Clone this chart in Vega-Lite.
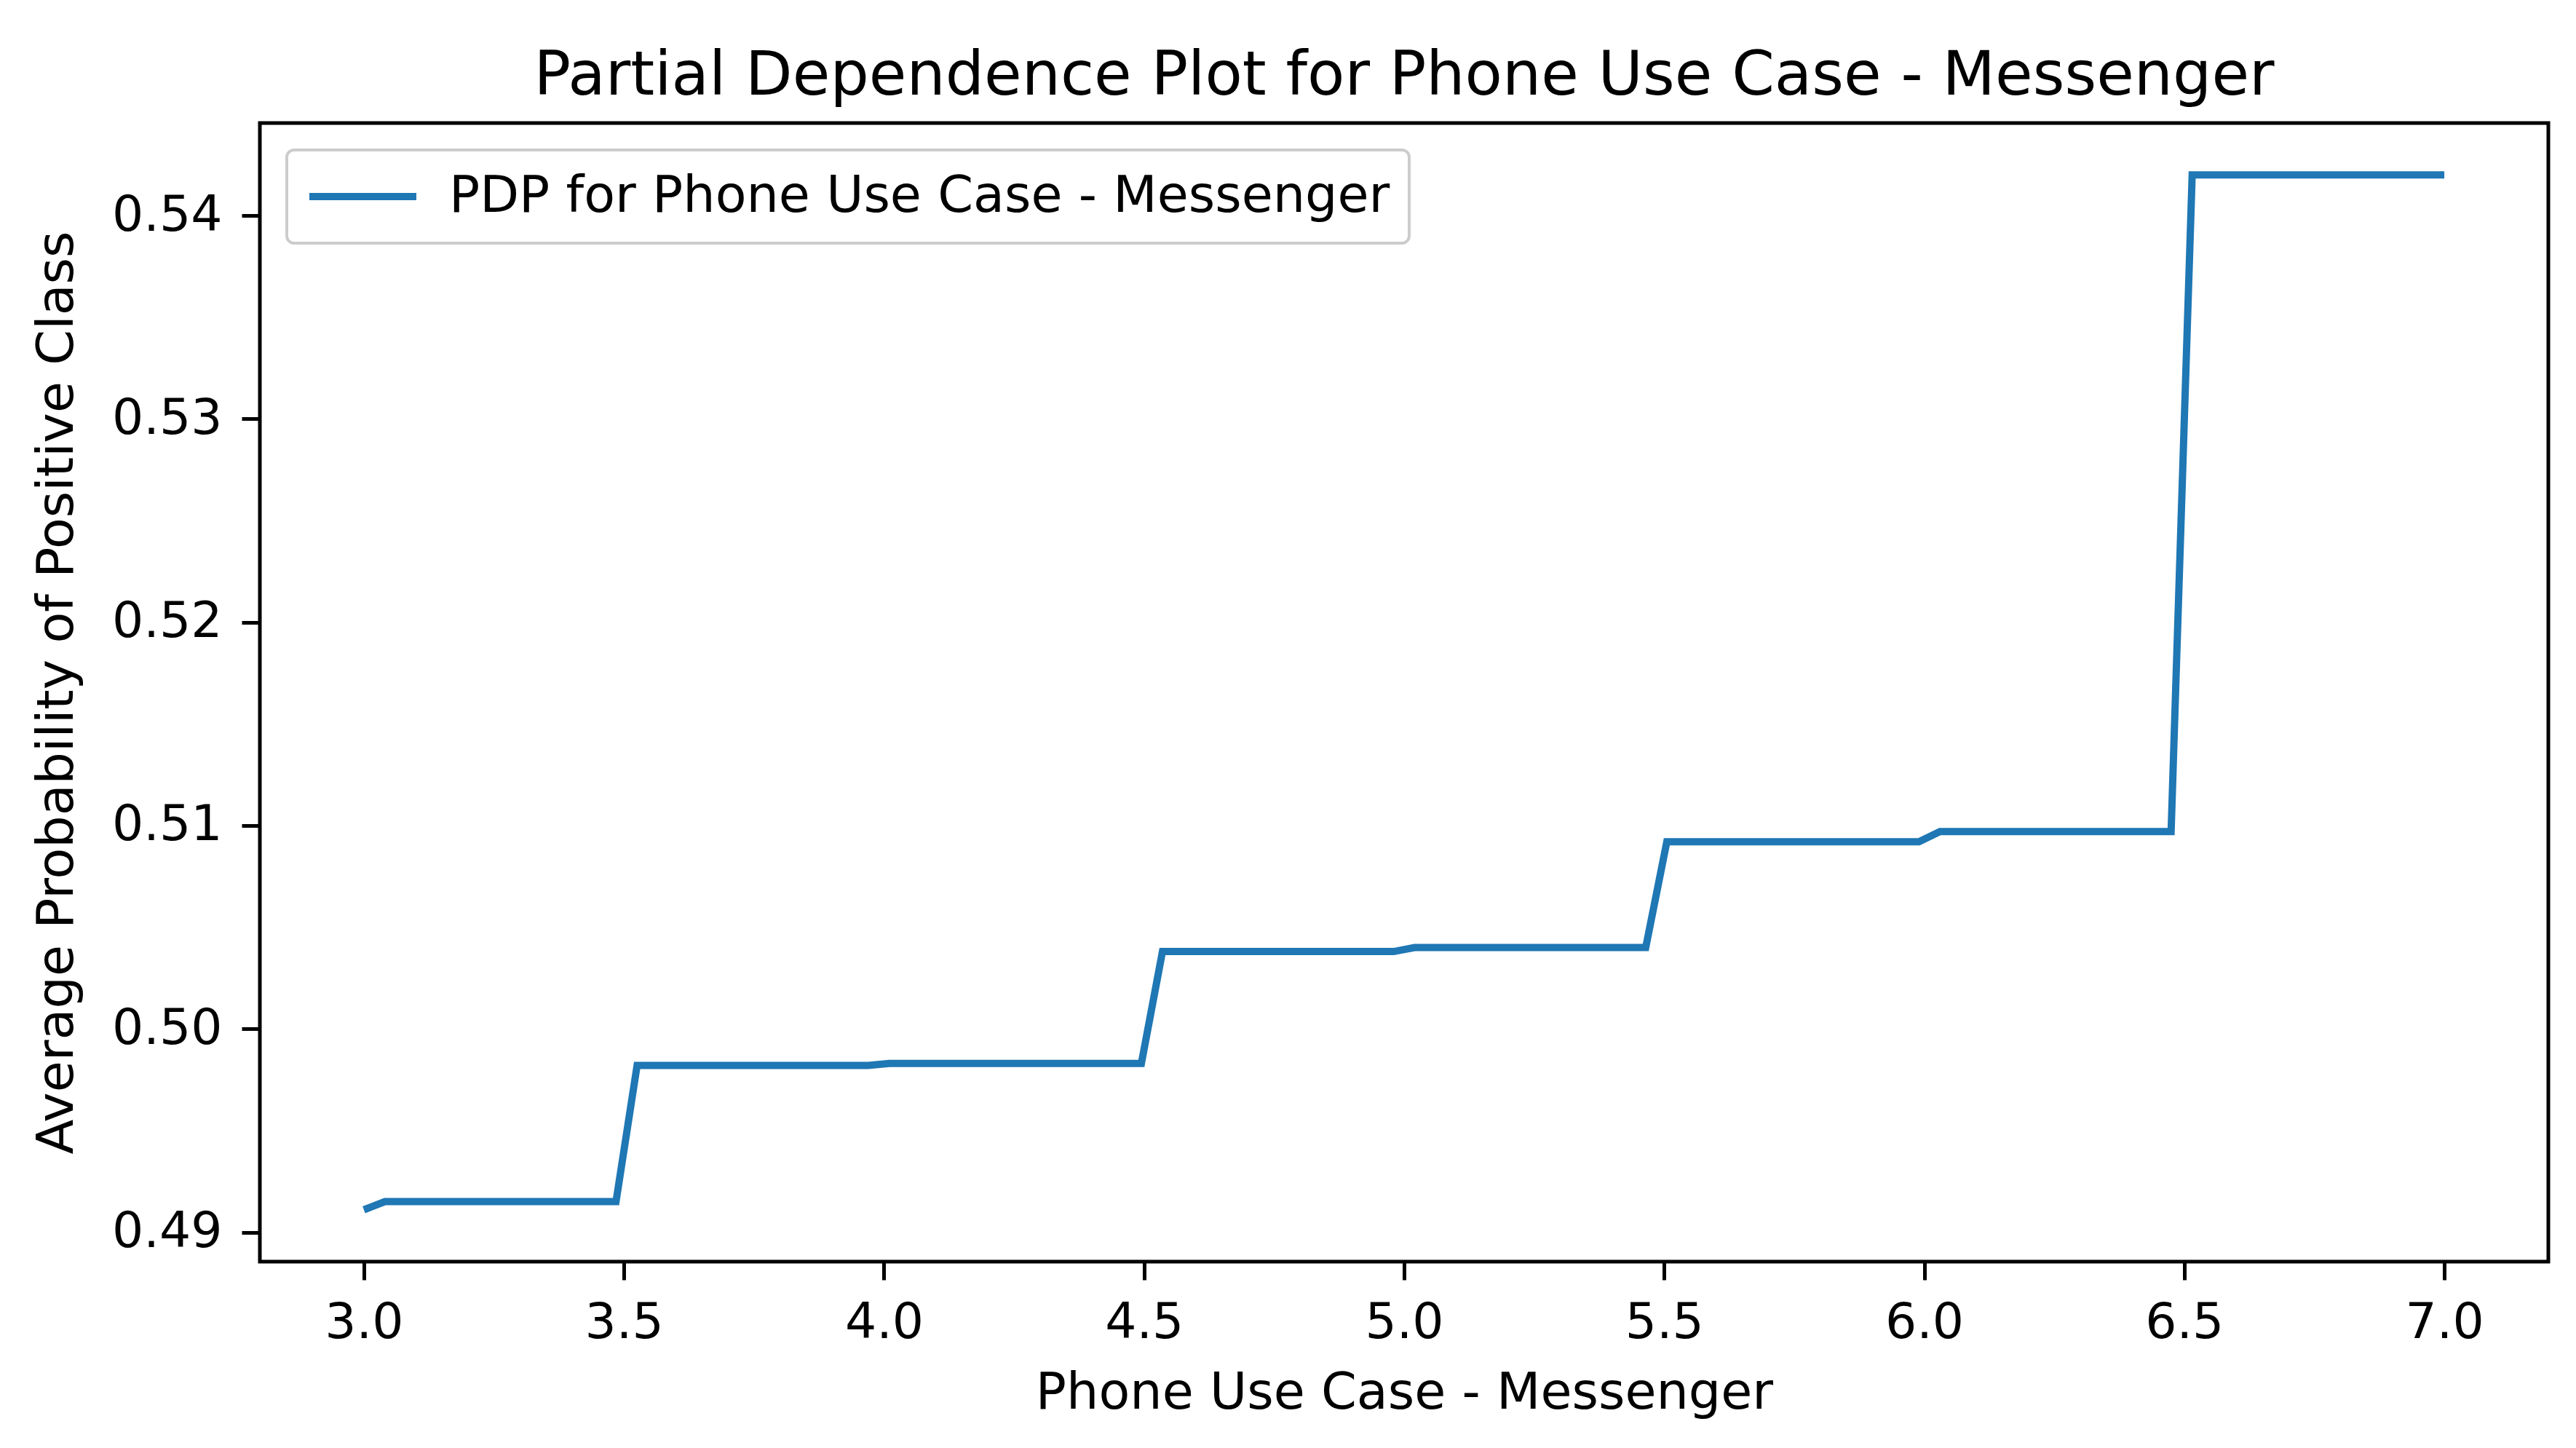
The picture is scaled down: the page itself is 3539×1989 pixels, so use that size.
{
  "$schema": "https://vega.github.io/schema/vega-lite/v6.json",
  "autosize": {"type": "none"},
  "width": 3144,
  "height": 1564,
  "padding": {"left": 357, "top": 169, "right": 38, "bottom": 256},
  "background": "white",
  "title": {
    "text": "Partial Dependence Plot for Phone Use Case - Messenger",
    "font": "DejaVu Sans",
    "fontSize": 84,
    "fontWeight": "normal",
    "color": "black",
    "anchor": "middle",
    "frame": "group",
    "offset": 21
  },
  "data": {
    "values": [
      {"x": 3.0, "y": 0.4911},
      {"x": 3.0404, "y": 0.4915},
      {"x": 3.4848, "y": 0.4915},
      {"x": 3.5253, "y": 0.4982},
      {"x": 3.9697, "y": 0.4982},
      {"x": 4.0101, "y": 0.4983},
      {"x": 4.4949, "y": 0.4983},
      {"x": 4.5354, "y": 0.5038},
      {"x": 4.9798, "y": 0.5038},
      {"x": 5.0202, "y": 0.5040},
      {"x": 5.4646, "y": 0.5040},
      {"x": 5.5051, "y": 0.5092},
      {"x": 5.9899, "y": 0.5092},
      {"x": 6.0303, "y": 0.5097},
      {"x": 6.4747, "y": 0.5097},
      {"x": 6.5152, "y": 0.5420},
      {"x": 7.0, "y": 0.5420}
    ]
  },
  "mark": {"type": "line", "strokeWidth": 10, "strokeJoin": "miter", "strokeCap": "butt"},
  "encoding": {
    "x": {
      "field": "x",
      "type": "quantitative",
      "title": "Phone Use Case - Messenger",
      "scale": {"domain": [2.8, 7.2], "nice": false, "zero": false},
      "axis": {"values": [3.0, 3.5, 4.0, 4.5, 5.0, 5.5, 6.0, 6.5, 7.0], "format": ".1f", "labelPadding": 25, "titlePadding": 28}
    },
    "y": {
      "field": "y",
      "type": "quantitative",
      "title": "Average Probability of Positive Class",
      "scale": {"domain": [0.48855, 0.54455], "nice": false, "zero": false},
      "axis": {"values": [0.49, 0.50, 0.51, 0.52, 0.53, 0.54], "format": ".2f", "labelPadding": 27, "titlePadding": 43}
    },
    "color": {
      "datum": "PDP for Phone Use Case - Messenger",
      "type": "nominal",
      "scale": {"range": ["#1f77b4"]},
      "legend": {
        "title": null,
        "orient": "top-left",
        "offset": 37,
        "padding": 26,
        "clipHeight": 76,
        "symbolType": "stroke",
        "symbolSize": 21609,
        "symbolStrokeWidth": 10,
        "labelOffset": 40,
        "labelLimit": 0,
        "labelFont": "DejaVu Sans",
        "labelFontSize": 70,
        "labelColor": "black",
        "strokeColor": "#cccccc",
        "fillColor": "white",
        "cornerRadius": 10
      }
    }
  },
  "config": {
    "view": {"stroke": "black", "strokeWidth": 5},
    "axis": {
      "domain": false,
      "grid": false,
      "ticks": true,
      "tickColor": "black",
      "tickWidth": 5,
      "tickSize": 25,
      "labelFont": "DejaVu Sans",
      "labelFontSize": 68,
      "labelColor": "black",
      "titleFont": "DejaVu Sans",
      "titleFontSize": 70,
      "titleFontWeight": "normal",
      "titleColor": "black"
    },
    "legend": {"strokeWidth": 4}
  }
}
